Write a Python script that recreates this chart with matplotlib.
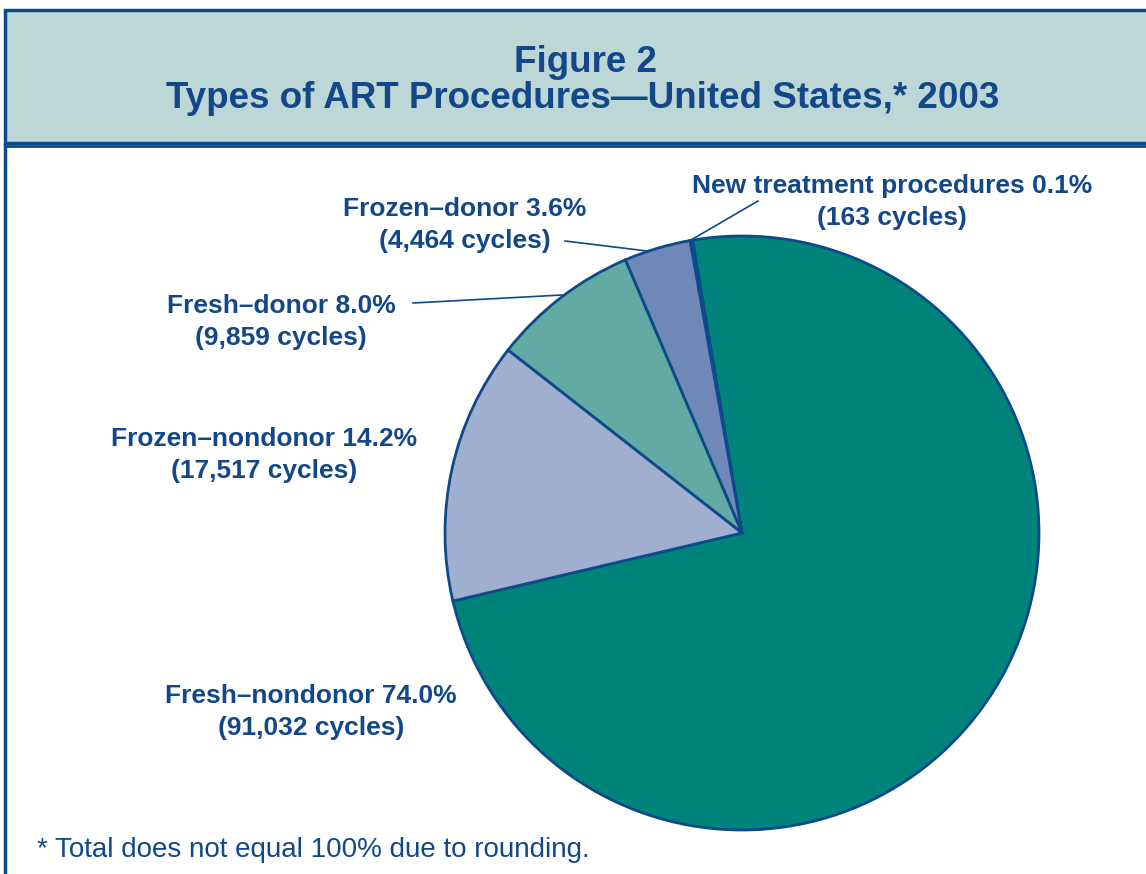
import matplotlib
matplotlib.use("Agg")
import matplotlib.pyplot as plt
from matplotlib.patches import Rectangle

# Data (counterclockwise order starting at lower-left)
categories = ["Fresh–nondonor", "New treatment procedures", "Frozen–donor", "Fresh–donor", "Frozen–nondonor"]
cycles = [91032, 163, 4464, 9859, 17517]
percents = ["74.0%", "0.1%", "3.6%", "8.0%", "14.2%"]
cycle_labels = ["91,032", "163", "4,464", "9,859", "17,517"]
colors = ["#00837A", "#8DC3BE", "#7088B8", "#63A9A4", "#A0AFD0"]

TITLE1 = "Figure 2"
TITLE2 = "Types of ART Procedures\u2014United States,* 2003"
FOOT = "* Total does not equal 100% due to rounding."

W, H = 1146, 874
NAVY = "#0D4A8A"
TXT = "#12478A"

plt.rcParams['font.family'] = ['Liberation Sans', 'DejaVu Sans']

fig = plt.figure(figsize=(W / 100, H / 100), dpi=100)
ax = fig.add_axes([0, 0, 1, 1])

def Y(y):
    return H - y

# pie
cx, cy, r = 742, 533, 297
total = sum(cycles)
start = 99.6 - 360 * cycles[0] / total + 360
ax.pie(cycles, colors=colors, startangle=start, counterclock=True,
       center=(cx, Y(cy)), radius=r,
       wedgeprops=dict(edgecolor=NAVY, linewidth=2.0))
ax.set_xlim(0, W)
ax.set_ylim(0, H)
ax.set_aspect('equal')
ax.axis('off')

# frames
ax.add_patch(Rectangle((5, Y(143)), W + 10, 133, facecolor="#BCD7D6",
                       edgecolor=NAVY, linewidth=2.5, zorder=0))
ax.plot([5, 5], [Y(145), Y(H + 5)], color=NAVY, lw=2.5)
ax.plot([5, W + 5], [Y(146), Y(146)], color=NAVY, lw=2.0)

# titles
ax.text(585, Y(63), TITLE1, ha='center', va='center', fontsize=26.5,
        fontweight='bold', color=TXT)
ax.text(583, Y(99), TITLE2, ha='center', va='center', fontsize=26.5,
        fontweight='bold', color=TXT)

# labels: (index, center x, y of first line)
label_pos = {
    1: (892, 186),
    2: (465, 209),
    3: (281, 306),
    4: (264, 439),
    0: (311, 696),
}
for i, (lx, ly) in label_pos.items():
    ax.text(lx, Y(ly), f"{categories[i]} {percents[i]}", ha='center', va='center',
            fontsize=19, fontweight='bold', color=TXT)
    ax.text(lx, Y(ly + 32), f"({cycle_labels[i]} cycles)", ha='center', va='center',
            fontsize=19, fontweight='bold', color=TXT)

# leader lines
leaders = [((758, 201), (691, 240)), ((565, 241), (647, 251)), ((413, 303), (562, 295))]
for (x0, y0), (x1, y1) in leaders:
    ax.plot([x0, x1], [Y(y0), Y(y1)], color=NAVY, lw=1.2)

ax.text(37, Y(850), FOOT, ha='left', va='center', fontsize=20, color=TXT)

fig.savefig("out.png", dpi=100)
